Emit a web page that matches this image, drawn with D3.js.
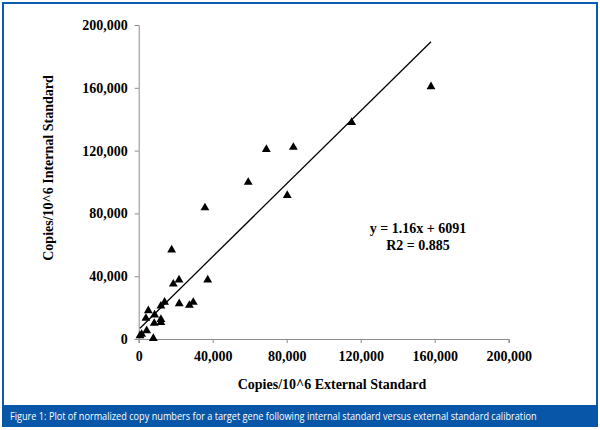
<!DOCTYPE html>
<html>
<head>
<meta charset="utf-8">
<script src="https://cdn.jsdelivr.net/npm/d3@7"></script>
<style>
  body { margin: 0; background: #fff; }
  svg { display: block; }
</style>
</head>
<body>
<svg id="chart" width="600" height="430"></svg>
<script>
// values
const externalStd = [158000, 115100, 83600, 69000, 59200, 80300, 35800, 17800, 37300, 21800, 18700,
    21900, 27400, 29500, 12000, 14000, 5200, 8600, 3900, 12000, 8400, 12000, 4300, 1600, 700, 7900];
const internalStd = [160700, 138000, 122100, 120800, 99800, 91500, 83600, 56700, 37600, 37600, 35000,
    22500, 21500, 23400, 21000, 23500, 18000, 15300, 13200, 12500, 10000, 10600, 5300, 3000, 2100, 400];
const xTicks = [0, 40000, 80000, 120000, 160000, 200000];
const yTicks = [0, 40000, 80000, 120000, 160000, 200000];
const fit = {slope: 1.16, intercept: 6091, r2: 0.885};
const fitRange = [700, 158000];
const caption = "Figure 1: Plot of normalized copy numbers for a target gene following internal standard versus external standard calibration";

const svg = d3.select("#chart");

// frame and caption bar
svg.append("rect")
    .attr("x", 3).attr("y", 3).attr("width", 594).attr("height", 423)
    .attr("fill", "#fff").attr("stroke", "#0a5cb0").attr("stroke-width", 2);
svg.append("rect")
    .attr("x", 2).attr("y", 405).attr("width", 596).attr("height", 22)
    .attr("fill", "#0756a8");

// caption is set in a narrow face in the original, so squeeze it horizontally to fit
let cap = svg.append("text")
    .attr("fill", "#fff")
    .attr("font-family", "Open Sans, sans-serif")
    .attr("font-size", 10.5)
    .text(caption);
let capWidth = cap.node().getComputedTextLength();
cap.attr("transform", `translate(10,420) scale(${527 / capWidth},1)`);

const x = d3.scaleLinear().domain([0, 200000]).range([138.7, 508.7]);
const y = d3.scaleLinear().domain([0, 200000]).range([339, 25]);

const serif = "Liberation Serif, Times New Roman, serif";
const fmt = d3.format(",");

let xAxis = svg.append("g")
    .attr("transform", `translate(0,${y(0)})`)
    .call(d3.axisBottom(x).tickValues(xTicks).tickFormat(fmt).tickSize(4).tickPadding(8));

let yAxis = svg.append("g")
    .attr("transform", `translate(${x(0)},0)`)
    .call(d3.axisLeft(y).tickValues(yTicks).tickFormat(fmt).tickSize(4).tickPadding(7));

[xAxis, yAxis].forEach(a => {
    a.select(".domain").attr("stroke", "#8c8c8c");
    a.selectAll(".tick line").attr("stroke", "#8c8c8c");
    a.selectAll(".tick text")
        .attr("font-family", serif)
        .attr("font-size", 14)
        .attr("font-weight", "bold")
        .attr("fill", "#000");
});

// axis titles
svg.append("text")
    .attr("x", 332).attr("y", 389)
    .attr("text-anchor", "middle")
    .attr("font-family", serif).attr("font-size", 14).attr("font-weight", "bold")
    .text("Copies/10^6 External Standard");

svg.append("text")
    .attr("transform", "translate(53,168) rotate(-90)")
    .attr("text-anchor", "middle")
    .attr("font-family", serif).attr("font-size", 14).attr("font-weight", "bold")
    .text("Copies/10^6 Internal Standard");

// trend line
svg.append("line")
    .attr("x1", x(fitRange[0])).attr("y1", y(fit.slope * fitRange[0] + fit.intercept))
    .attr("x2", x(fitRange[1])).attr("y2", y(fit.slope * fitRange[1] + fit.intercept))
    .attr("stroke", "#000").attr("stroke-width", 1.3);

// points
const tri = d3.symbol().type(d3.symbolTriangle).size(34);
svg.append("g").selectAll("path")
    .data(externalStd.map((d, i) => ({x: d, y: internalStd[i]})))
    .join("path")
    .attr("transform", d => `translate(${x(d.x)},${y(d.y)})`)
    .attr("d", tri)
    .attr("fill", "#000");

// equation
svg.append("text")
    .attr("x", 418).attr("y", 233)
    .attr("text-anchor", "middle")
    .attr("font-family", serif).attr("font-size", 14).attr("font-weight", "bold")
    .text(`y = ${fit.slope}x + ${fit.intercept}`);
svg.append("text")
    .attr("x", 418).attr("y", 250)
    .attr("text-anchor", "middle")
    .attr("font-family", serif).attr("font-size", 14).attr("font-weight", "bold")
    .text(`R2 = ${fit.r2}`);
</script>
</body>
</html>
